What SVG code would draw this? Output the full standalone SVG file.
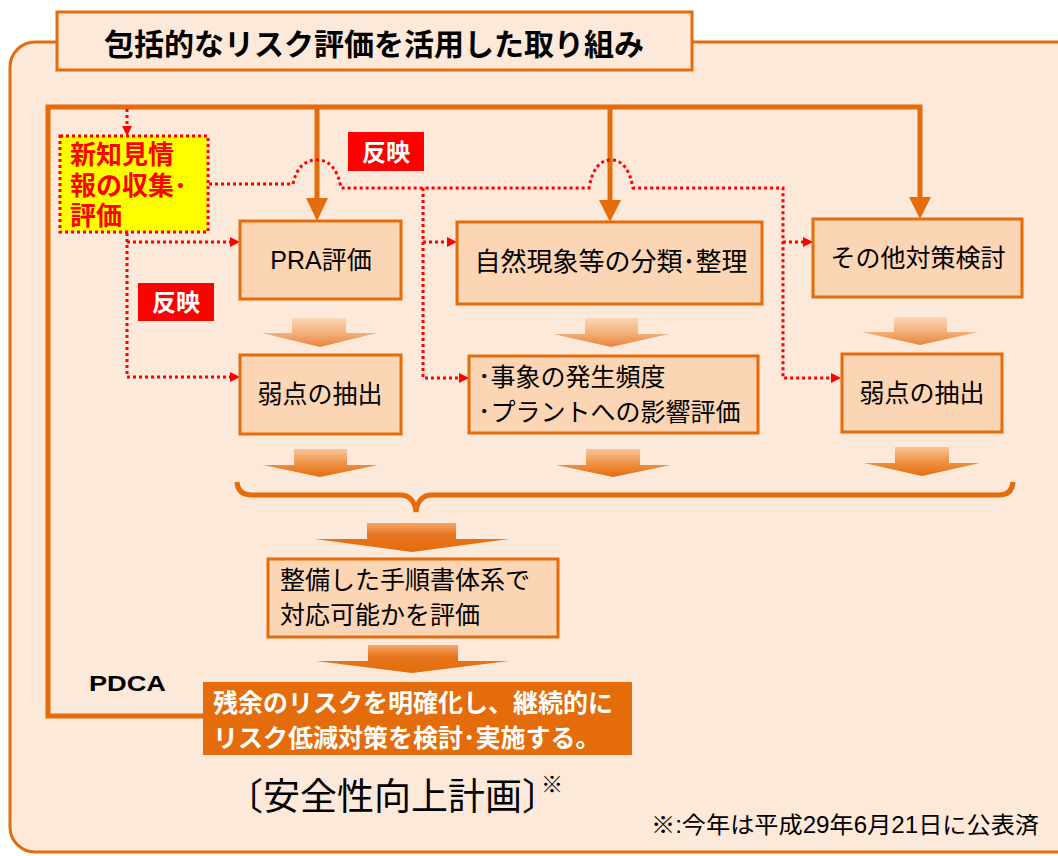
<svg xmlns="http://www.w3.org/2000/svg" width="1058" height="856" viewBox="0 0 1058 856">
<defs>
<style>
.t{font-family:"Liberation Sans","Noto Sans CJK JP",sans-serif;dominant-baseline:central}
.box{fill:#FCD5B5;stroke:#E46C0A;stroke-width:3}
.thick{fill:none;stroke:#E46C0A;stroke-width:5}
.dot{fill:none;stroke:#FF0000;stroke-width:3;stroke-dasharray:3 3}
.rh{fill:#FF0000}
.oh{fill:#E46C0A}
.lbl{fill:#FF0000}
</style>
<linearGradient id="gA" x1="0" y1="0" x2="0" y2="1">
<stop offset="0" stop-color="#FBD7B8"/><stop offset="0.5" stop-color="#F4B27D"/><stop offset="1" stop-color="#E8843A"/>
</linearGradient>
<linearGradient id="gB" x1="0" y1="0" x2="0" y2="1">
<stop offset="0" stop-color="#F8C49A"/><stop offset="0.5" stop-color="#EE9446"/><stop offset="1" stop-color="#E46C0A"/>
</linearGradient>
<linearGradient id="gC" x1="0" y1="0" x2="0" y2="1">
<stop offset="0" stop-color="#F4A769"/><stop offset="0.4" stop-color="#E67620"/><stop offset="1" stop-color="#E46C0A"/>
</linearGradient>
</defs>
<rect width="1058" height="856" fill="#FFFFFF"/>
<rect x="10" y="42" width="1080" height="810" rx="25" fill="#FDE9D9" stroke="#E46C0A" stroke-width="3"/>
<g id="title">
<rect x="57" y="12" width="635" height="58" fill="#FDE9D9" stroke="#E46C0A" stroke-width="3"/>
<text class="t" x="374" y="44" font-size="30" font-weight="bold" text-anchor="middle">包括的なリスク評価を活用した取り組み</text>
</g>
<g id="connectors">
<path class="thick" d="M203,716 H48 V107 H920 V198"/>
<path class="thick" d="M317,107 V200"/>
<path class="thick" d="M610,107 V202"/>
<polygon class="oh" points="306,198 328,198 317,221"/>
<polygon class="oh" points="599,200 621,200 610,222"/>
<polygon class="oh" points="909,197 931,197 920,219"/>
<path class="dot" d="M127,109 V126"/>
<polygon class="rh" points="122,126 132,126 127,136"/>
<path class="dot" d="M127,233 V377 H230 M127,242 H230"/>
<polygon class="rh" points="230,237 240,242 230,247"/>
<polygon class="rh" points="230,372 240,377 230,382"/>
<path class="dot" d="M209,184 H293 Q298,160 317,160 Q336,160 341,188 H589 Q594,160 611,160 Q628,160 633,188 H783 V378 H831 M783,242 H803"/>
<polygon class="rh" points="803,237 813,242 803,247"/>
<polygon class="rh" points="831,373 841,378 831,383"/>
<path class="dot" d="M423,188 V378 H459 M423,242 H447"/>
<polygon class="rh" points="447,237 457,242 447,247"/>
<polygon class="rh" points="459,373 469,378 459,383"/>
<path fill="none" stroke="#E46C0A" stroke-width="5" d="M237,482 Q238,495 252,495 H400 Q414,495 416,512 Q418,495 432,495 H999 Q1012,495 1013,482"/>
<polygon fill="url(#gA)" points="292,318 346,318 346,333 377,333 320,347 262,333 292,333"/>
<polygon fill="url(#gA)" points="585,318 638,318 638,334 669,334 611,347 553,334 585,334"/>
<polygon fill="url(#gA)" points="894,317 947,317 947,332 978,332 920,345 862,332 894,332"/>
<polygon fill="url(#gB)" points="294,449 347,449 347,465 378,465 320,477 263,465 294,465"/>
<polygon fill="url(#gB)" points="586,449 640,449 640,465 671,465 613,477 556,465 586,465"/>
<polygon fill="url(#gB)" points="895,447 949,447 949,463 980,463 922,476 864,463 895,463"/>
<polygon fill="url(#gC)" points="367,523 456,523 456,539 509,539 412,552 315,539 367,539"/>
<polygon fill="url(#gC)" points="368,645 458,645 458,661 509,661 412,673 316,661 368,661"/>
</g>
<g id="newinfo">
<rect x="60" y="136" width="148" height="96" fill="#FFFF00" stroke="#FF0000" stroke-width="3" stroke-dasharray="3 3"/>
<text class="t" x="70" y="155" font-size="26" font-weight="bold" fill="#FF0000">新知見情</text>
<text class="t" x="70" y="186" font-size="26" font-weight="bold" fill="#FF0000">報の収集･</text>
<text class="t" x="70" y="216" font-size="26" font-weight="bold" fill="#FF0000">評価</text>
</g>
<g id="hanei1">
<rect class="lbl" x="348" y="132" width="76" height="39"/>
<text class="t" x="386" y="152" font-size="24" font-weight="bold" fill="#FFFFFF" text-anchor="middle">反映</text>
</g>
<g id="hanei2">
<rect class="lbl" x="138" y="283" width="76" height="38"/>
<text class="t" x="176" y="302" font-size="24" font-weight="bold" fill="#FFFFFF" text-anchor="middle">反映</text>
</g>
<g id="pra">
<rect class="box" x="240" y="221" width="161" height="78"/>
<text class="t" x="321" y="260" font-size="25" text-anchor="middle">PRA評価</text>
</g>
<g id="weak1">
<rect class="box" x="240" y="355" width="161" height="79"/>
<text class="t" x="320" y="394" font-size="25" text-anchor="middle">弱点の抽出</text>
</g>
<g id="nature">
<rect class="box" x="457" y="222" width="305" height="82"/>
<text class="t" x="611" y="262" font-size="26" text-anchor="middle">自然現象等の分類･整理</text>
</g>
<g id="freq">
<rect class="box" x="469" y="356" width="289" height="77"/>
<text class="t" x="478" y="377" font-size="25">･事象の発生頻度</text>
<text class="t" x="478" y="412" font-size="25">･プラントへの影響評価</text>
</g>
<g id="other">
<rect class="box" x="813" y="219" width="209" height="78"/>
<text class="t" x="918" y="258" font-size="25" text-anchor="middle">その他対策検討</text>
</g>
<g id="weak2">
<rect class="box" x="842" y="354" width="160" height="78"/>
<text class="t" x="922" y="393" font-size="25" text-anchor="middle">弱点の抽出</text>
</g>
<g id="proc">
<rect class="box" x="268" y="559" width="290" height="78"/>
<text class="t" x="280" y="580" font-size="25">整備した手順書体系で</text>
<text class="t" x="280" y="615" font-size="25">対応可能かを評価</text>
</g>
<g id="result">
<rect x="203" y="682" width="429" height="73" fill="#E46C0A"/>
<text class="t" x="213" y="703" font-size="25" font-weight="bold" fill="#FFFFFF">残余のリスクを明確化し、継続的に</text>
<text class="t" x="213" y="738" font-size="25" font-weight="bold" fill="#FFFFFF">リスク低減対策を検討･実施する。</text>
</g>
<text id="pdca" class="t" x="89" y="683" font-size="22" font-weight="bold" textLength="77" lengthAdjust="spacingAndGlyphs">PDCA</text>
<text id="plan" class="t" x="226" y="797" font-size="37">〔安全性向上計画<tspan letter-spacing="-18">〕</tspan><tspan font-size="22" dy="-13">※</tspan></text>
<text id="note" class="t" x="651" y="825" font-size="23" textLength="388" lengthAdjust="spacingAndGlyphs">※:今年は平成29年6月21日に公表済</text>
</svg>
